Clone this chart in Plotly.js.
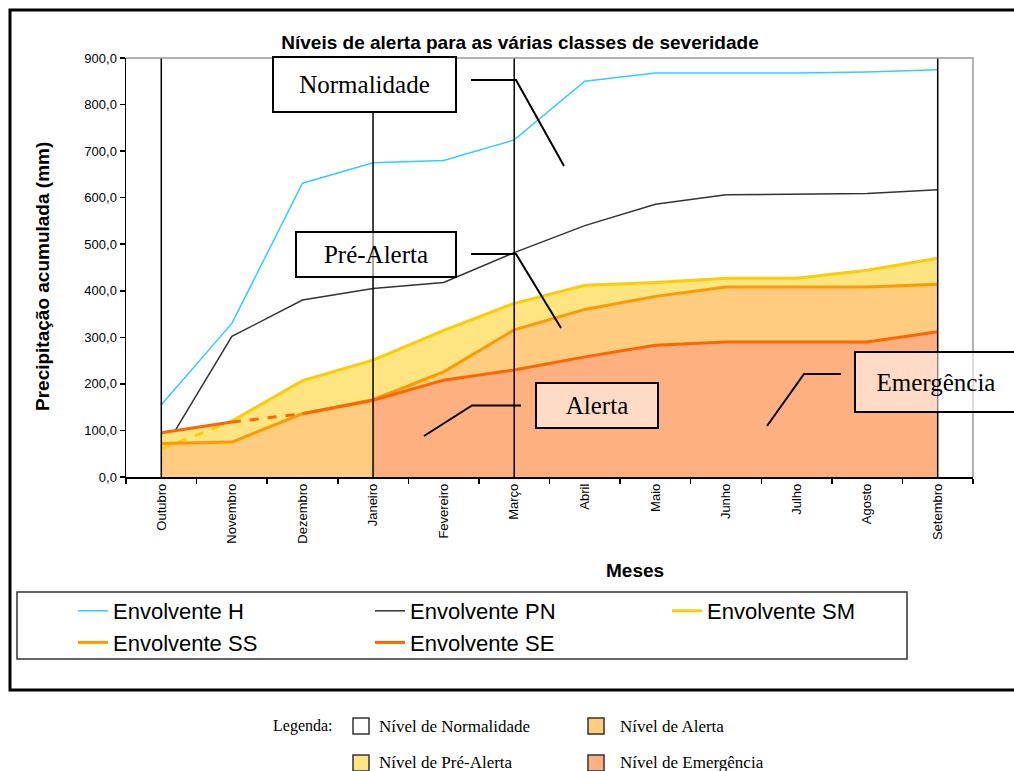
<!DOCTYPE html>
<html>
<head>
<meta charset="utf-8">
<script src="https://cdn.plot.ly/plotly-3.0.1.min.js"></script>
<style>
  html, body { margin: 0; padding: 0; background: #ffffff; }
  #chart { width: 1014px; height: 771px; }
</style>
</head>
<body>
<div id="chart"></div>
<script>
// ---------- data ----------
const meses = ['Outubro','Novembro','Dezembro','Janeiro','Fevereiro','Março','Abril','Maio','Junho','Julho','Agosto','Setembro'];
const envolventeH  = [155, 330, 631, 675, 680, 724, 850, 868, 868, 868, 870, 875];
const envolventePN = [50, 302, 380, 405, 418, 482, 540, 586, 606, 608, 609, 617];
const envolventeSM = [60, 120, 207, 251, 315, 373, 412, 418, 427, 427, 444, 470];
const envolventeSS = [72, 75, 136, 166, 226, 316, 360, 388, 408, 408, 408, 414];
const envolventeSE = [95, 118, 136, 165, 208, 230, 258, 283, 290, 290, 290, 312];
const mesesLimite  = ['Outubro', 'Janeiro', 'Março', 'Setembro'];
const nomesSeries  = ['Envolvente H', 'Envolvente PN', 'Envolvente SM', 'Envolvente SS', 'Envolvente SE'];
const rotulosNiveis = ['Normalidade', 'Pré-Alerta', 'Alerta', 'Emergência'];
const legendaNiveis = ['Nível de Normalidade', 'Nível de Alerta', 'Nível de Pré-Alerta', 'Nível de Emergência'];
const tituloX = 'Meses';
const tituloY = 'Precipitação acumulada (mm)';
const yMax = 900;

// ---------- style ----------
const W = 1014, H = 771;
const M = {l: 126, r: 41, t: 58, b: 294};
const PW = W - M.l - M.r, PH = H - M.t - M.b;
const px = v => (v - M.l) / PW;          // page px -> paper x
const py = v => (H - M.b - v) / PH;      // page px -> paper y

const cH = '#33CCFF', cPN = '#333333', cSM = '#FFCC00', cSS = '#FF9900', cSE = '#FF6600';
const fYellow = '#FFE482', fOrange = '#FFCC80', fSalmon = '#FFB080';
const sans = 'Liberation Sans, Arial, sans-serif';
const serif = 'Liberation Serif, Times New Roman, serif';

const idx = (a, b) => meses.slice(a, b);

const traces = [];
// PN drawn first so the fills hide its lower end
traces.push({x: meses, y: envolventePN, type: 'scatter', mode: 'lines', name: nomesSeries[1],
  line: {color: cPN, width: 1.5}, legendrank: 2});
// fills
traces.push({x: meses, y: envolventeSM, type: 'scatter', mode: 'none', fill: 'tozeroy',
  fillcolor: fYellow, showlegend: false, hoverinfo: 'skip'});
traces.push({x: idx(0, 4), y: envolventeSE.slice(0, 4), type: 'scatter', mode: 'none', fill: 'tozeroy',
  fillcolor: fYellow, showlegend: false, hoverinfo: 'skip'});
traces.push({x: meses, y: envolventeSS, type: 'scatter', mode: 'none', fill: 'tozeroy',
  fillcolor: fOrange, showlegend: false, hoverinfo: 'skip'});
traces.push({x: idx(3), y: envolventeSE.slice(3), type: 'scatter', mode: 'none', fill: 'tozeroy',
  fillcolor: fSalmon, showlegend: false, hoverinfo: 'skip'});
// SM
traces.push({x: idx(0, 2), y: envolventeSM.slice(0, 2), type: 'scatter', mode: 'lines',
  line: {color: cSM, width: 3, dash: 'dash'}, showlegend: false, legendgroup: 'sm'});
traces.push({x: idx(1), y: envolventeSM.slice(1), type: 'scatter', mode: 'lines', name: nomesSeries[2],
  line: {color: cSM, width: 3}, legendgroup: 'sm', legendrank: 3});
// SS
traces.push({x: meses, y: envolventeSS, type: 'scatter', mode: 'lines', name: nomesSeries[3],
  line: {color: cSS, width: 3}, legendrank: 4});
// SE
traces.push({x: idx(0, 2), y: envolventeSE.slice(0, 2), type: 'scatter', mode: 'lines',
  line: {color: cSE, width: 3}, showlegend: false, legendgroup: 'se'});
traces.push({x: idx(1, 3), y: envolventeSE.slice(1, 3), type: 'scatter', mode: 'lines',
  line: {color: cSE, width: 3, dash: 'dash'}, showlegend: false, legendgroup: 'se'});
traces.push({x: idx(2), y: envolventeSE.slice(2), type: 'scatter', mode: 'lines', name: nomesSeries[4],
  line: {color: cSE, width: 3}, legendgroup: 'se', legendrank: 5});
// H
traces.push({x: meses, y: envolventeH, type: 'scatter', mode: 'lines', name: nomesSeries[0],
  line: {color: cH, width: 1.5}, legendrank: 1});

// ---------- shapes ----------
const shapes = [];
mesesLimite.forEach(m => shapes.push({type: 'line', xref: 'x', yref: 'y', x0: m, x1: m, y0: 0, y1: yMax,
  line: {color: '#000000', width: 1.5}, layer: 'above'}));
// plot frame (top/right gray)
shapes.push({type: 'path', xref: 'paper', yref: 'paper', path: 'M 0,1 L 1,1 L 1,0',
  line: {color: '#999999', width: 1.5}, layer: 'above'});
// leader lines
const pathPx = pts => 'M ' + pts.map(p => px(p[0]) + ',' + py(p[1])).join(' L ');
[
  [[471, 80], [516, 80], [564, 166]],
  [[471, 254], [516, 254], [561, 328]],
  [[521, 405.5], [472, 405.5], [424, 436]],
  [[841, 374], [804, 374], [767, 426]]
].forEach(pts => shapes.push({type: 'path', xref: 'paper', yref: 'paper', path: pathPx(pts),
  line: {color: '#000000', width: 2}, layer: 'above'}));
// outer chart frame
shapes.push({type: 'rect', xref: 'paper', yref: 'paper', x0: px(10), x1: px(1040), y0: py(690), y1: py(10),
  line: {color: '#000000', width: 3}, layer: 'above'});
// legend box
shapes.push({type: 'rect', xref: 'paper', yref: 'paper', x0: px(17), x1: px(907), y0: py(659), y1: py(592),
  line: {color: '#333333', width: 1.5}, layer: 'above'});
// bottom legend swatches
const swatches = [
  {x: 353, y: 718, c: '#FFFFFF'}, {x: 588, y: 718, c: fOrange},
  {x: 353, y: 755, c: fYellow}, {x: 588, y: 755, c: fSalmon}
];
swatches.forEach(s => shapes.push({type: 'rect', xref: 'paper', yref: 'paper',
  x0: px(s.x), x1: px(s.x + 16), y0: py(s.y + 16), y1: py(s.y),
  fillcolor: s.c, line: {color: '#333333', width: 1.5}, layer: 'above'}));

// ---------- annotations ----------
const annotations = [];
const boxes = [
  {t: rotulosNiveis[0], cx: 364.5, cy: 84.5, w: 181, h: 53, bg: '#FFFFFF'},
  {t: rotulosNiveis[1], cx: 376, cy: 254.5, w: 158, h: 43, bg: 'rgba(255,255,255,0.55)'},
  {t: rotulosNiveis[2], cx: 597, cy: 405.5, w: 120, h: 43, bg: 'rgba(255,255,255,0.55)'},
  {t: rotulosNiveis[3], cx: 935.5, cy: 382, w: 160, h: 58, bg: 'rgba(255,255,255,0.55)'}
];
boxes.forEach(b => annotations.push({text: b.t, xref: 'paper', yref: 'paper', x: px(b.cx), y: py(b.cy),
  xanchor: 'center', yanchor: 'middle', showarrow: false, width: b.w, height: b.h, align: 'center', valign: 'middle',
  bgcolor: b.bg, bordercolor: '#000000', borderwidth: 2, borderpad: 0,
  font: {family: serif, size: 25, color: '#000000'}}));
// axis titles
annotations.push({text: '<b>' + tituloX + '</b>', xref: 'paper', yref: 'paper', x: px(635), y: py(570),
  xanchor: 'center', yanchor: 'middle', showarrow: false, font: {family: sans, size: 19, color: '#000000'}});
annotations.push({text: '<b>' + tituloY + '</b>', xref: 'paper', yref: 'paper', x: px(42), y: py(277),
  xanchor: 'center', yanchor: 'middle', textangle: -90, showarrow: false, font: {family: sans, size: 19, color: '#000000'}});
// bottom legend
annotations.push({text: 'Legenda:', xref: 'paper', yref: 'paper', x: px(335), y: py(726),
  xanchor: 'right', yanchor: 'middle', showarrow: false, font: {family: serif, size: 16, color: '#000000'}});
const legPos = [[377, 726], [618, 726], [377, 762], [618, 762]];
legendaNiveis.forEach((t, i) => annotations.push({text: t, xref: 'paper', yref: 'paper',
  x: px(legPos[i][0]), y: py(legPos[i][1]), xanchor: 'left', yanchor: 'middle', showarrow: false,
  font: {family: serif, size: 17, color: '#000000'}}));

const layout = {
  width: W, height: H,
  margin: M,
  paper_bgcolor: '#FFFFFF', plot_bgcolor: '#FFFFFF',
  separators: ', ',
  font: {family: sans, color: '#000000'},
  title: {text: 'Níveis de alerta para as várias classes de severidade',
    font: {family: sans, size: 19, color: '#000000', weight: 'bold'},
    xref: 'container', yref: 'container', x: 520 / W, y: 1 - 42 / H, xanchor: 'center', yanchor: 'middle'},
  xaxis: {type: 'category', categoryorder: 'array', categoryarray: meses, range: [-0.5, meses.length - 0.5],
    showgrid: false, zeroline: false, showline: true, linecolor: '#000000', linewidth: 1.5,
    ticks: 'outside', ticklen: 5, tickcolor: '#000000', tickwidth: 1.5, tickson: 'boundaries',
    tickangle: -90, tickfont: {family: sans, size: 13, color: '#000000'}},
  yaxis: {range: [0, yMax], dtick: 100, tick0: 0, tickformat: '.1f',
    showgrid: false, zeroline: false, showline: true, linecolor: '#000000', linewidth: 1.5,
    ticks: 'outside', ticklen: 5, tickcolor: '#000000', tickwidth: 1.5,
    tickfont: {family: sans, size: 13, color: '#000000'}},
  showlegend: true,
  legend: {orientation: 'h', xref: 'paper', yref: 'paper', x: px(73), y: py(590),
    xanchor: 'left', yanchor: 'top',
    entrywidth: 252, entrywidthmode: 'pixels', traceorder: 'normal',
    bgcolor: 'rgba(0,0,0,0)', borderwidth: 0,
    font: {family: sans, size: 22, color: '#000000'}},
  shapes: shapes,
  annotations: annotations
};

Plotly.newPlot('chart', traces, layout, {displayModeBar: false, staticPlot: true});
</script>
</body>
</html>
